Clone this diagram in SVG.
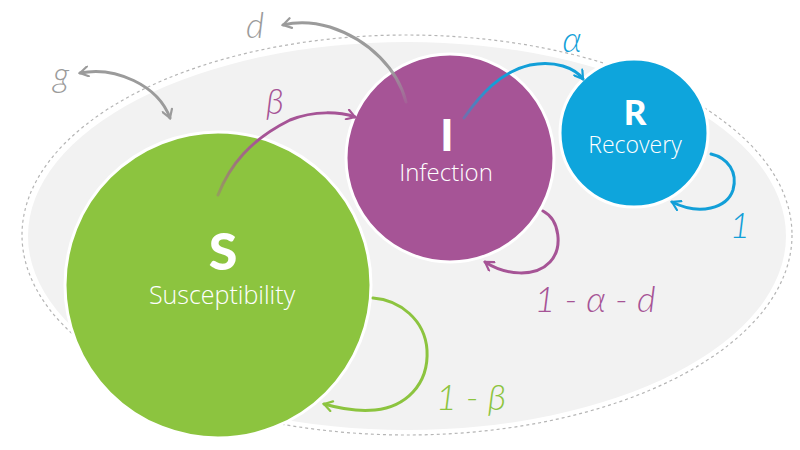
<svg xmlns="http://www.w3.org/2000/svg" width="800" height="450" viewBox="0 0 800 450">
<defs>
<style>
.node circle{stroke:#fff;stroke-width:3}
.big{font-family:"Lato","Open Sans","Liberation Sans",sans-serif;font-weight:900;fill:#fff;text-anchor:middle}
.name{font-family:"Open Sans","Lato","Liberation Sans",sans-serif;font-weight:300;fill:#fff;text-anchor:middle}
.lbl{font-family:"Lato","Open Sans","Liberation Sans",sans-serif;font-style:italic;font-weight:300}
.arr{fill:none;stroke-width:3;stroke-linecap:round}
.g{stroke:#9b9b9b}.p{stroke:#a65496}.b{stroke:#129fd8}.gr{stroke:#8cc43f}
</style>
<marker id="mg" viewBox="0 0 12 12" refX="10" refY="6" markerWidth="12" markerHeight="12" markerUnits="userSpaceOnUse" orient="auto-start-reverse"><path d="M2,1 L10,6 L2,11" fill="none" stroke="#9b9b9b" stroke-width="2.2" stroke-linecap="round"/></marker>
<marker id="mp" viewBox="0 0 12 12" refX="10" refY="6" markerWidth="12" markerHeight="12" markerUnits="userSpaceOnUse" orient="auto"><path d="M2,1 L10,6 L2,11" fill="none" stroke="#a65496" stroke-width="2.2" stroke-linecap="round"/></marker>
<marker id="mb" viewBox="0 0 12 12" refX="10" refY="6" markerWidth="12" markerHeight="12" markerUnits="userSpaceOnUse" orient="auto"><path d="M2,1 L10,6 L2,11" fill="none" stroke="#129fd8" stroke-width="2.2" stroke-linecap="round"/></marker>
<marker id="mgr" viewBox="0 0 12 12" refX="10" refY="6" markerWidth="12" markerHeight="12" markerUnits="userSpaceOnUse" orient="auto"><path d="M2,1 L10,6 L2,11" fill="none" stroke="#8cc43f" stroke-width="2.2" stroke-linecap="round"/></marker>
<linearGradient id="fadeBeta" gradientUnits="userSpaceOnUse" x1="218" y1="195" x2="255" y2="138"><stop offset="0" stop-color="#a65496" stop-opacity="0.35"/><stop offset="1" stop-color="#a65496"/></linearGradient>
<linearGradient id="fadeAlpha" gradientUnits="userSpaceOnUse" x1="464" y1="118" x2="492" y2="82"><stop offset="0" stop-color="#129fd8" stop-opacity="0.35"/><stop offset="1" stop-color="#129fd8"/></linearGradient>
<linearGradient id="fadeD" gradientUnits="userSpaceOnUse" x1="406" y1="102" x2="392" y2="68"><stop offset="0" stop-color="#9b9b9b" stop-opacity="0.2"/><stop offset="1" stop-color="#9b9b9b"/></linearGradient>
</defs>
<g id="population">
<ellipse cx="407" cy="235" rx="385" ry="200" fill="none" stroke="#b5b5b5" stroke-width="1.2" stroke-dasharray="3 3"/>
<ellipse cx="407" cy="236" rx="379" ry="194" fill="#f2f2f2"/>
</g>
<g id="S" class="node">
<circle cx="218" cy="285" r="153" fill="#8cc43f"/>
<text class="big" x="223" y="270" font-size="52">S</text>
<text class="name" x="222" y="304" font-size="25">Susceptibility</text>
</g>
<g id="I" class="node">
<circle cx="450" cy="158" r="104" fill="#a65496"/>
<text class="big" x="447" y="151" font-size="44">I</text>
<text class="name" x="446" y="181" font-size="24">Infection</text>
</g>
<g id="R" class="node">
<circle cx="634" cy="133" r="74" fill="#0ea5dc"/>
<text class="big" x="635" y="125" font-size="35">R</text>
<text class="name" x="635" y="153" font-size="23">Recovery</text>
</g>
<g id="connectors">
<path class="arr g" d="M80,73 C115,66 158,85 170,118" marker-start="url(#mg)" marker-end="url(#mg)"/>
<path class="arr" stroke="url(#fadeD)" d="M406,102 C398,70 370,40 330,27 C310,21 295,22 283,25" marker-end="url(#mg)"/>
<path class="arr" stroke="url(#fadeBeta)" d="M218,195 C230,165 250,140 290,120 C315,110 340,112 355,117" marker-end="url(#mp)"/>
<path class="arr" stroke="url(#fadeAlpha)" d="M464,118 C480,95 500,72 530,65 C555,60 575,68 583,79" marker-end="url(#mb)"/>
<path class="arr b" d="M711,154 C728,158 738,172 733,190 C727,208 700,216 672,202" marker-end="url(#mb)"/>
<path class="arr p" d="M543,211 C560,220 563,248 550,262 C535,278 505,275 485,262" marker-end="url(#mp)"/>
<path class="arr gr" d="M373,298 C400,300 425,320 427,350 C429,385 405,407 375,410 C355,412 338,408 324,404" marker-end="url(#mgr)"/>
</g>
<g id="labels">
<text class="lbl" x="255" y="38" font-size="35" fill="#9b9b9b" text-anchor="middle">d</text>
<text class="lbl" x="61" y="87" font-size="35" fill="#9b9b9b" text-anchor="middle">g</text>
<text class="lbl" x="275" y="114" font-size="35" fill="#a65496" text-anchor="middle">β</text>
<text class="lbl" x="572" y="52" font-size="35" fill="#129fd8" text-anchor="middle">α</text>
<text class="lbl" x="740" y="238" font-size="35" fill="#129fd8" text-anchor="middle">1</text>
<text class="lbl" x="595" y="312" font-size="36" fill="#a65496" text-anchor="middle">1 - α - d</text>
<text class="lbl" x="471" y="410" font-size="36" fill="#8cc43f" text-anchor="middle">1 - β</text>
</g>
</svg>
